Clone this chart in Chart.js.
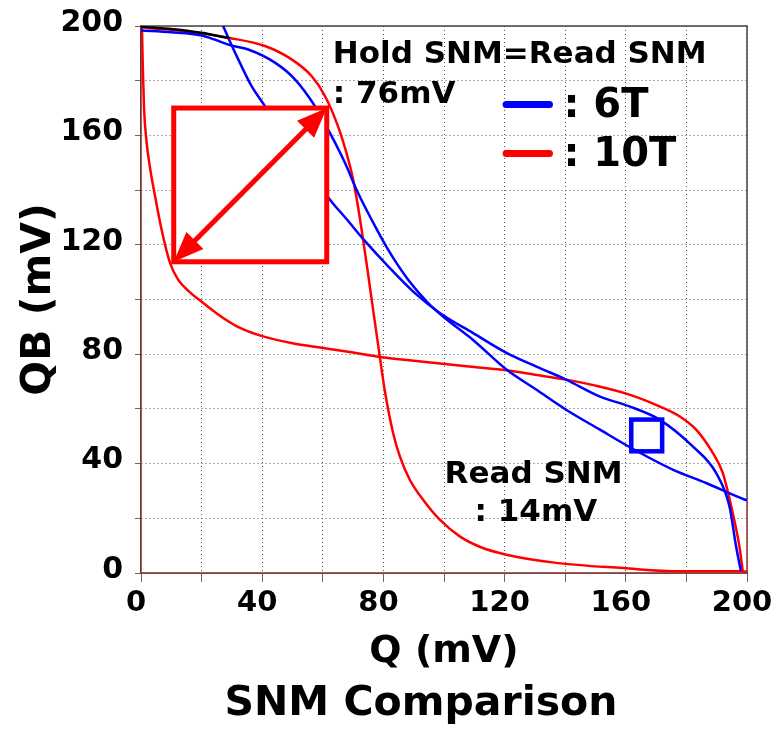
<!DOCTYPE html>
<html lang="en">
<head>
<meta charset="UTF-8">
<title>SNM Comparison</title>
<script src="https://cdn.jsdelivr.net/npm/chart.js"></script>
<style>
    body { margin: 0; background: #fff; }
    canvas { display: block; }
</style>
</head>
<body>

<canvas id="snmChart" width="779" height="730"></canvas>

<script>
    // butterfly curves (mV)
    // 10T, first VTC (QB vs Q)
    const q10T_a  = [0, 10, 20, 28.8, 40.9, 49.7, 56.3, 60.7, 65, 67.8, 70, 71.6, 73.3, 74.9, 76.9, 78.8, 80.4, 83.2, 85.4, 88.7, 93.1, 98.6, 105.2, 112, 120.6, 137, 159, 177.7, 197.5, 200];
    const qb10T_a = [199.5, 198.6, 197.3, 195.7, 192.7, 187.8, 181.7, 174.4, 163.4, 153.6, 143.9, 134.1, 121.9, 109.7, 93.9, 79.2, 67.1, 51.2, 42.7, 34.1, 26.8, 19.5, 13.4, 9.5, 6.7, 3.7, 1.8, 0.6, 0.6, 0.5];
    // 10T, mirrored VTC
    const q10T_b  = [0.3, 0.6, 1, 1.8, 3, 4.6, 6.8, 9.6, 12.3, 16, 20, 25, 31.5, 40.3, 50, 60.1, 70, 78.8, 90, 101.9, 110, 120.6, 130, 140.3, 150, 161.2, 171.1, 177.7, 183.2, 188.7, 192, 195.3, 197.5, 198.6];
    const qb10T_b = [200, 185, 170, 158, 148, 138, 125.5, 113.3, 107.2, 102.8, 99.2, 94.9, 90.3, 86.5, 84, 82.3, 80.6, 79, 77.6, 76.2, 75.3, 74.1, 72.5, 70.7, 68.5, 65.2, 60.9, 57.3, 52.4, 43.9, 36.6, 21.9, 9.7, 0.6];
    // 6T, first VTC
    const q6T_a  = [0, 10, 20, 24.4, 29.3, 35.4, 44.2, 50.8, 57.4, 62.3, 67.3, 71.6, 76.1, 81.5, 88.1, 94.7, 100.2, 109.5, 120.6, 130.4, 140.3, 151.3, 161.8, 175.5, 186.5, 199.4, 200];
    const qb6T_a = [198.4, 197.7, 196.5, 195, 193, 191.4, 186.6, 180.5, 170.7, 161, 150, 139, 129.2, 118.3, 107.3, 98.8, 93.3, 85.3, 74.4, 67.1, 59.7, 52.5, 45.7, 37.8, 32.9, 26.8, 26.6];
    // 6T, mirrored VTC
    const q6T_b  = [27.1, 29.5, 32.1, 36.5, 40.9, 45.7, 52.5, 57.5, 62.3, 68.3, 73.8, 81.5, 90.3, 98.6, 109.5, 120.6, 131.5, 140.3, 151.3, 161.2, 171.1, 182.1, 189.8, 194.2, 196.4, 198];
    const qb6T_b = [200, 194, 187.8, 178, 170.7, 161.8, 151.3, 144, 136.6, 128.8, 121.5, 112.2, 102.4, 95.1, 87.8, 80.5, 75, 70.7, 64.6, 60.9, 56.1, 46.3, 36.6, 24.4, 9.7, 0.6];
    // short black trace at the top left
    const qBlack  = [0, 10.6, 20, 29.3];
    const qbBlack = [199.7, 198.8, 197.5, 195.5];
    // light red trace along the axes
    const qEdge  = [0, 0, 200, 200];
    const qbEdge = [200, 0, 0, 27];

    // SNM squares: [Q low, Q high], [QB low, QB high]
    const holdSquareQ  = [10.8, 61.3];
    const holdSquareQB = [113.8, 170];
    const readSquareQ  = [161.8, 172];
    const readSquareQB = [44.5, 56.1];

    const axisTicks = [0, 40, 80, 120, 160, 200];

    const toPoints = (xs, ys) => xs.map((v, i) => ({ x: v, y: ys[i] }));

    const FONT = '"DejaVu Sans", sans-serif';
    Chart.defaults.font.family = FONT;
    Chart.defaults.font.weight = 'bold';
    Chart.defaults.color = '#000';

    function arrowHead(ctx, fx, fy, tx, ty, len, half) {
        const a = Math.atan2(ty - fy, tx - fx);
        const bx = tx - len * Math.cos(a), by = ty - len * Math.sin(a);
        ctx.beginPath();
        ctx.moveTo(tx, ty);
        ctx.lineTo(bx + half * Math.sin(a), by - half * Math.cos(a));
        ctx.lineTo(bx - half * Math.sin(a), by + half * Math.cos(a));
        ctx.closePath();
        ctx.fill();
    }

    // frame, squares, arrow, labels and the legend
    const overlay = {
        id: 'overlay',
        beforeDatasetsDraw(chart) {
            const { ctx, chartArea: a } = chart;
            ctx.save();
            ctx.strokeStyle = '#444';
            ctx.lineWidth = 1.5;
            ctx.strokeRect(a.left, a.top, a.width, a.height);
            ctx.restore();
        },
        afterDatasetsDraw(chart) {
            const { ctx, scales: { x, y } } = chart;
            ctx.save();

            // hold SNM square (white inside)
            const hx1 = x.getPixelForValue(holdSquareQ[0]), hx2 = x.getPixelForValue(holdSquareQ[1]);
            const hy1 = y.getPixelForValue(holdSquareQB[0]), hy2 = y.getPixelForValue(holdSquareQB[1]);
            ctx.fillStyle = '#fff';
            ctx.fillRect(hx1, hy2, hx2 - hx1, hy1 - hy2);
            ctx.strokeStyle = '#ff0000';
            ctx.lineWidth = 5;
            ctx.strokeRect(hx1, hy2, hx2 - hx1, hy1 - hy2);

            // diagonal double arrow
            const head = 30, half = 12;
            const ang = Math.atan2(hy2 - hy1, hx2 - hx1);
            ctx.lineWidth = 5;
            ctx.beginPath();
            ctx.moveTo(hx1 + (head - 2) * Math.cos(ang), hy1 + (head - 2) * Math.sin(ang));
            ctx.lineTo(hx2 - (head - 2) * Math.cos(ang), hy2 - (head - 2) * Math.sin(ang));
            ctx.stroke();
            ctx.fillStyle = '#ff0000';
            arrowHead(ctx, hx1, hy1, hx2, hy2, head, half);
            arrowHead(ctx, hx2, hy2, hx1, hy1, head, half);

            // read SNM square
            const rx1 = x.getPixelForValue(readSquareQ[0]), rx2 = x.getPixelForValue(readSquareQ[1]);
            const ry1 = y.getPixelForValue(readSquareQB[0]), ry2 = y.getPixelForValue(readSquareQB[1]);
            ctx.strokeStyle = '#0000ff';
            ctx.lineWidth = 4.5;
            ctx.strokeRect(rx1, ry2, rx2 - rx1, ry1 - ry2);

            // annotations
            ctx.fillStyle = '#000';
            ctx.textAlign = 'left';
            ctx.textBaseline = 'alphabetic';
            ctx.font = 'bold 31px ' + FONT;
            ctx.fillText('Hold SNM=Read SNM', x.getPixelForValue(63.3), y.getPixelForValue(186.6));
            ctx.fillText(': 76mV', x.getPixelForValue(63.3), y.getPixelForValue(171.9));
            ctx.fillText('Read SNM', x.getPixelForValue(100.2), y.getPixelForValue(32.9));
            ctx.fillText(': 14mV', x.getPixelForValue(110.1), y.getPixelForValue(18.9));

            // legend
            const lx1 = x.getPixelForValue(120.5), lx2 = x.getPixelForValue(134.8);
            ctx.lineCap = 'round';
            ctx.lineWidth = 7;
            [['#0000ff', 171.3, 166.8, ': 6T'], ['#ff0000', 153.4, 148.7, ': 10T']].forEach(([c, ly, ty, t]) => {
                ctx.strokeStyle = c;
                ctx.beginPath();
                ctx.moveTo(lx1, y.getPixelForValue(ly));
                ctx.lineTo(lx2, y.getPixelForValue(ly));
                ctx.stroke();
                ctx.font = 'bold 40px ' + FONT;
                ctx.fillText(t, x.getPixelForValue(139.4), y.getPixelForValue(ty));
            });
            ctx.restore();
        },
        afterDraw(chart) {
            const ctx = chart.ctx;
            ctx.save();
            ctx.fillStyle = '#000';
            ctx.font = 'bold 41px ' + FONT;
            ctx.textAlign = 'center';
            ctx.textBaseline = 'alphabetic';
            ctx.fillText('SNM Comparison', 421, 715);
            ctx.restore();
        }
    };

    function curve(label, xs, ys, color, width) {
        return {
            label: label,
            data: toPoints(xs, ys),
            showLine: true,
            borderColor: color,
            borderWidth: width,
            pointRadius: 0,
            cubicInterpolationMode: 'monotone',
            fill: false
        };
    }

    function axis(title, fontSize, tickLen, pad, offset, titlePad) {
        return {
            type: 'linear',
            min: 0,
            max: 200,
            afterBuildTicks: s => { s.ticks = Array.from({ length: 11 }, (_, i) => ({ value: i * 20 })); },
            ticks: {
                autoSkip: false,
                maxRotation: 0,
                padding: pad,
                labelOffset: offset,
                font: { size: fontSize, weight: 'bold' },
                color: '#000',
                callback: v => axisTicks.includes(v) ? String(v) : ''
            },
            grid: {
                color: '#555',
                lineWidth: 1,
                tickColor: '#666',
                tickLength: tickLen,
                tickWidth: 1,
                tickBorderDash: []
            },
            border: { display: true, color: '#444', width: 1.5, dash: [1, 3] },
            title: {
                display: true,
                text: title,
                color: '#000',
                font: { size: title === 'Q (mV)' ? 38 : 41, weight: 'bold' },
                padding: titlePad
            }
        };
    }

    const xAxis = axis('Q (mV)', 29, 9, 4, -5, { top: 0, bottom: 1 });
    xAxis.afterFit = s => { s.height = 103; s.paddingLeft = 0; s.paddingRight = 0; };
    const yAxis = axis('QB (mV)', 30, 6, 12, -3, { top: 15, bottom: 0 });
    yAxis.afterFit = s => { s.width = 141; s.paddingTop = 0; s.paddingBottom = 0; };

    new Chart(document.getElementById('snmChart'), {
        type: 'scatter',
        data: {
            datasets: [
                curve('overlap', qBlack, qbBlack, '#000000', 2.5),
                curve('6T b', q6T_b, qb6T_b, '#0000ff', 2.5),
                curve('6T a', q6T_a, qb6T_a, '#0000ff', 2.5),
                curve('10T a', q10T_a, qb10T_a, '#ff0000', 2.5),
                curve('10T b', q10T_b, qb10T_b, '#ff0000', 2.5),
                curve('edge', qEdge, qbEdge, 'rgba(255, 70, 70, 0.75)', 2)
            ]
        },
        options: {
            responsive: false,
            animation: false,
            devicePixelRatio: 1,
            layout: { padding: { top: 26, right: 32, bottom: 54, left: 0 } },
            plugins: {
                legend: { display: false },
                tooltip: { enabled: false }
            },
            scales: { x: xAxis, y: yAxis }
        },
        plugins: [overlay]
    });
</script>

</body>
</html>
